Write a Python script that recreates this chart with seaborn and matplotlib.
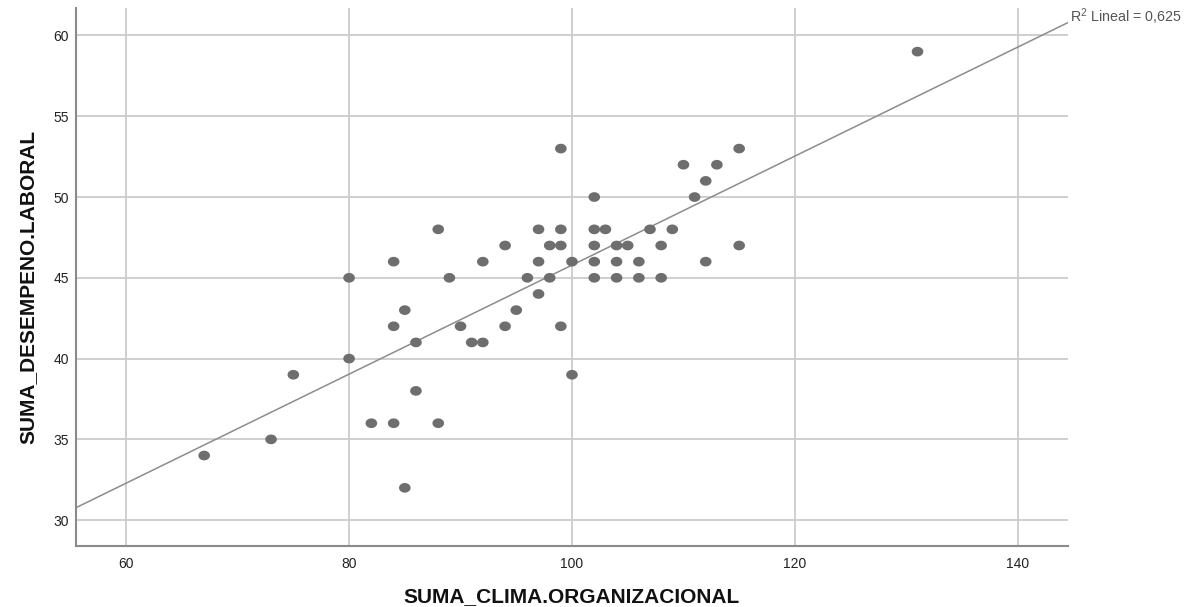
import numpy as np
import pandas as pd
import matplotlib
matplotlib.use("Agg")
import matplotlib.pyplot as plt
import seaborn as sns

clima = [67, 73, 75, 80, 80, 82, 84, 84, 84, 85, 85, 86, 86, 88, 88, 89, 90, 91,
         92, 92, 94, 94, 95, 96, 97, 97, 97, 98, 98, 99, 99, 99, 99, 100, 100,
         102, 102, 102, 102, 102, 103, 104, 104, 104, 105, 106, 106, 107, 108,
         108, 109, 110, 111, 112, 112, 113, 115, 115, 131]
desempeno = [34, 35, 39, 45, 40, 36, 46, 42, 36, 43, 32, 41, 38, 48, 36, 45, 42, 41,
             46, 41, 47, 42, 43, 45, 48, 46, 44, 47, 45, 53, 48, 47, 42, 46, 39,
             50, 48, 47, 46, 45, 48, 47, 46, 45, 47, 46, 45, 48, 47,
             45, 48, 52, 50, 51, 46, 52, 53, 47, 59]

x_ticks = [60, 80, 100, 120, 140]
y_ticks = [30, 35, 40, 45, 50, 55, 60]
r2_label = "R$^2$ Lineal = 0,625"

df = pd.DataFrame({"SUMA_CLIMA.ORGANIZACIONAL": clima,
                   "SUMA_DESEMPENO.LABORAL": desempeno})

sns.set_style("white")
plt.rcParams["font.family"] = ["Liberation Sans", "DejaVu Sans"]
plt.rcParams["mathtext.fontset"] = "custom"
plt.rcParams["mathtext.rm"] = "Liberation Sans"

fig = plt.figure(figsize=(11.95, 6.07), dpi=100)
ax = fig.add_axes([0.0636, 0.1005, 0.8301, 0.8863])
ax.set_xlim(55.5, 144.5)
ax.set_ylim(28.4, 61.7)

# linea de ajuste sobre todo el rango del eje
sns.regplot(data=df, x="SUMA_CLIMA.ORGANIZACIONAL", y="SUMA_DESEMPENO.LABORAL",
            ci=None, truncate=False, scatter=False, ax=ax,
            line_kws=dict(color="#8c8c8c", lw=1.1, zorder=2))
ax.set_xlim(55.5, 144.5)
ax.set_ylim(28.4, 61.7)

# puntos elipticos tipo SPSS
t = np.linspace(0, 2 * np.pi, 40)
ell = np.column_stack([1.2 * np.cos(t), np.sin(t)])
sns.scatterplot(data=df, x="SUMA_CLIMA.ORGANIZACIONAL", y="SUMA_DESEMPENO.LABORAL",
                marker=ell, s=70, color="#6e6e6e", edgecolor="none", ax=ax, zorder=3)

ax.set_xticks(x_ticks)
ax.set_yticks(y_ticks)
ax.grid(True, color="#cccccc", lw=1.3, zorder=0)
ax.set_axisbelow(True)
for s in ["top", "right"]:
    ax.spines[s].set_visible(False)
for s in ["left", "bottom"]:
    ax.spines[s].set_color("#8a8a8a")
    ax.spines[s].set_linewidth(1.5)
ax.tick_params(length=0, labelsize=10, colors="#222222")
ax.tick_params(axis="x", pad=8)
ax.tick_params(axis="y", pad=5)

ax.set_xlabel("SUMA_CLIMA.ORGANIZACIONAL", fontsize=15, fontweight="bold", color="#111111")
ax.set_ylabel("SUMA_DESEMPENO.LABORAL", fontsize=15, fontweight="bold", color="#111111")
ax.xaxis.set_label_coords(0.5, -0.077)
ax.yaxis.set_label_coords(-0.039, 0.481)

ax.text(1.002, 0.983, r2_label, transform=ax.transAxes, fontsize=10.3,
        color="#555555", ha="left", va="center")

fig.savefig("out.png", dpi=100)
